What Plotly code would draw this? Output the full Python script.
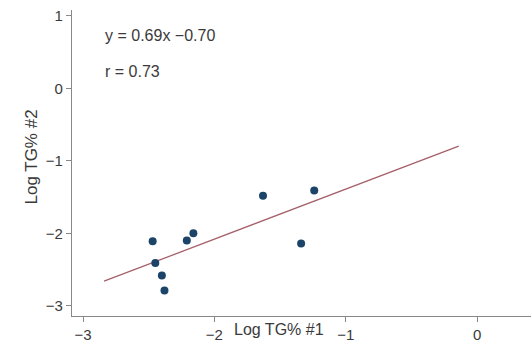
import plotly.graph_objects as go

x_vals = [-2.47, -2.45, -2.40, -2.38, -2.21, -2.16, -1.63, -1.24, -1.34]
y_vals = [-2.11, -2.41, -2.58, -2.79, -2.10, -2.00, -1.48, -1.41, -2.14]
slope = 0.69
intercept = -0.70
line_x = [-2.84, -0.14]
x_ticks = [-3, -2, -1, 0]
x_tick_text = ["\u22123", "\u22122", "\u22121", "0"]
y_ticks = [1, 0, -1, -2, -3]
y_tick_text = ["1", "0", "\u22121", "\u22122", "\u22123"]

line_y = [slope * v + intercept for v in line_x]

fig = go.Figure()
fig.add_trace(go.Scatter(x=line_x, y=line_y, mode="lines",
                         line=dict(color="#a5606a", width=1.3), hoverinfo="skip"))
fig.add_trace(go.Scatter(x=x_vals, y=y_vals, mode="markers",
                         marker=dict(color="#1b4468", size=8)))

fam = "Liberation Sans, Arial, sans-serif"
txt = "#3a3a3a"
fig.update_layout(
    width=531, height=354,
    margin=dict(l=72, r=0, t=10, b=38),
    plot_bgcolor="white", paper_bgcolor="white",
    showlegend=False, font=dict(family=fam, size=15, color=txt),
    xaxis=dict(range=[-3.084, 0.41], tickvals=x_ticks, ticktext=x_tick_text,
               showline=True, linecolor="#888", linewidth=1.2, ticks="outside",
               ticklen=5, tickcolor="#888", showgrid=False, zeroline=False,
               tickfont=dict(size=15, color=txt)),
    yaxis=dict(range=[-3.14, 1.08], tickvals=y_ticks, ticktext=y_tick_text,
               showline=True, linecolor="#888", linewidth=1.2, ticks="outside",
               ticklen=5, tickcolor="#888", showgrid=False, zeroline=False,
               tickfont=dict(size=15, color=txt)),
)
fig.add_annotation(x=0.451, y=-0.077, xref="paper", yref="paper",
                   text="Log TG% #1", showarrow=False, font=dict(size=16, color=txt))
fig.add_annotation(x=-0.113, y=0.52, xref="paper", yref="paper", textangle=-90,
                   text="Log TG% #2", showarrow=False, font=dict(size=17, color=txt))
fig.add_annotation(xref="x", yref="y", x=-2.85, y=0.73, text="y = 0.69x \u22120.70",
                   showarrow=False, xanchor="left", font=dict(size=16, color=txt))
fig.add_annotation(xref="x", yref="y", x=-2.85, y=0.23, text="r = 0.73",
                   showarrow=False, xanchor="left", font=dict(size=16, color=txt))

fig.write_html("out.html")
